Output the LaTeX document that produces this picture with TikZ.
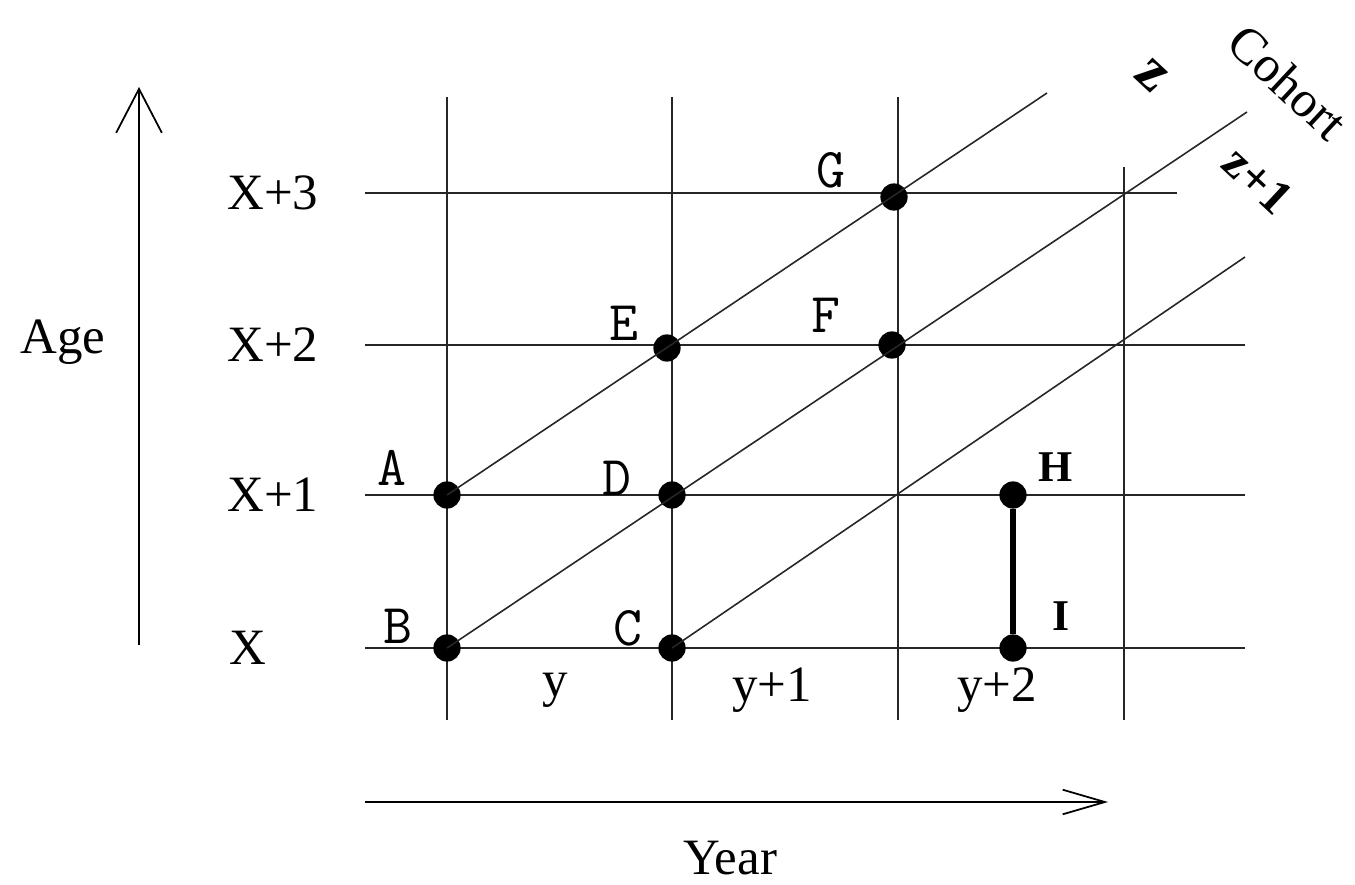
\documentclass[tikz,border=0pt]{standalone}
\usepackage{fontspec}
\setmainfont{Liberation Serif}
\usetikzlibrary{arrows.meta}
\tikzset{
  grid/.style={line width=1.4pt, black!85},
  diag/.style={line width=0.9pt, black!85},
  dot/.style={circle, fill=black, inner sep=0pt, minimum size=15.5pt},
  lbl/.style={font=\fontsize{29}{31}\selectfont, inner sep=0pt},
  ptl/.style={font=\ttfamily\fontsize{32}{34}\selectfont, inner sep=0pt},
  bl/.style={font=\bfseries\fontsize{25}{27}\selectfont, inner sep=0pt},
  zl/.style={font=\bfseries\fontsize{28}{30}\selectfont, inner sep=0pt, rotate=-43},
}
\begin{document}
\begin{tikzpicture}[x=0.02cm, y=-0.02cm]
\useasboundingbox (0,0) rectangle (1355,885);
% grid coordinates
\coordinate (h3l) at (365,193); \coordinate (h3r) at (1177,193);
\coordinate (h2l) at (365,345); \coordinate (h2r) at (1245,345);
\coordinate (h1l) at (365,495); \coordinate (h1r) at (1245,495);
\coordinate (h0l) at (365,648); \coordinate (h0r) at (1245,648);
\coordinate (v0t) at (447,97);  \coordinate (v0b) at (447,720);
\coordinate (v1t) at (672,97);  \coordinate (v1b) at (672,720);
\coordinate (v2t) at (898,97);  \coordinate (v2b) at (898,720);
\coordinate (v3t) at (1124,167); \coordinate (v3b) at (1124,720);
\draw[grid] (h3l) -- (h3r);
\draw[grid] (h2l) -- (h2r);
\draw[grid] (h1l) -- (h1r);
\draw[grid] (h0l) -- (h0r);
\draw[grid] (v0t) -- (v0b);
\draw[grid] (v1t) -- (v1b);
\draw[grid] (v2t) -- (v2b);
\draw[grid] (v3t) -- (v3b);
% diagonal ends
\coordinate (d1) at (1047,93);
\coordinate (d2) at (1247,112);
\coordinate (d3) at (1245,257);
% points
\node[dot] (A) at (447,495) {};
\node[dot] (B) at (447,648) {};
\node[dot] (C) at (672,648) {};
\node[dot] (D) at (672,495) {};
\node[dot] (E) at (667,348) {};
\node[dot] (F) at (892,345) {};
\node[dot] (G) at (894,197) {};
\node[dot] (H) at (1013,495) {};
\node[dot] (I) at (1013,648) {};
\draw[diag] (A.center) -- (d1);
\draw[diag] (B.center) -- (d2);
\draw[diag] (C.center) -- (d3);
\draw[line width=3.2pt] (H) -- (I);
% point labels
\node[ptl] (lA) at (392,468) {A};
\node[ptl] (lB) at (398,626) {B};
\node[ptl] (lC) at (628,628) {C};
\node[ptl] (lD) at (617,478) {D};
\node[ptl] (lE) at (624,323) {E};
\node[ptl] (lF) at (826,315) {F};
\node[ptl] (lG) at (831,170) {G};
\node[bl] (lH) at (1056,467) {H};
\node[bl] (lI) at (1061,616) {I};
% axis labels
\node[lbl, anchor=west] (x3) at (227,193) {X+3};
\node[lbl, anchor=west] (x2) at (227,345) {X+2};
\node[lbl, anchor=west] (x1) at (227,495) {X+1};
\node[lbl, anchor=west] (x0) at (229,648) {X};
\node[lbl] (y0) at (555,690) {y};
\node[lbl] (y1) at (772,690) {y+1};
\node[lbl] (y2) at (997,690) {y+2};
\node[lbl] (age) at (63,342) {Age};
\node[lbl] (year) at (730,858) {Year};
\node[zl, font=\bfseries\fontsize{34}{36}\selectfont] (z) at (1152,76) {z};
\node[zl] (z1) at (1258,180) {z+1};
\node[lbl, rotate=-43] (coh) at (1288,82) {Cohort};
% axes arrows
\coordinate (ab) at (139,645);
\coordinate (at) at (139,87);
\draw[line width=1.2pt, -{Straight Barb[length=25pt, width=26pt, line width=1pt]}] (ab) -- (at);
\coordinate (yl) at (365,802);
\coordinate (yr) at (1108,802);
\draw[line width=1.2pt, -{Straight Barb[length=24pt, width=14pt, line width=1pt]}] (yl) -- (yr);
\end{tikzpicture}
\end{document}
